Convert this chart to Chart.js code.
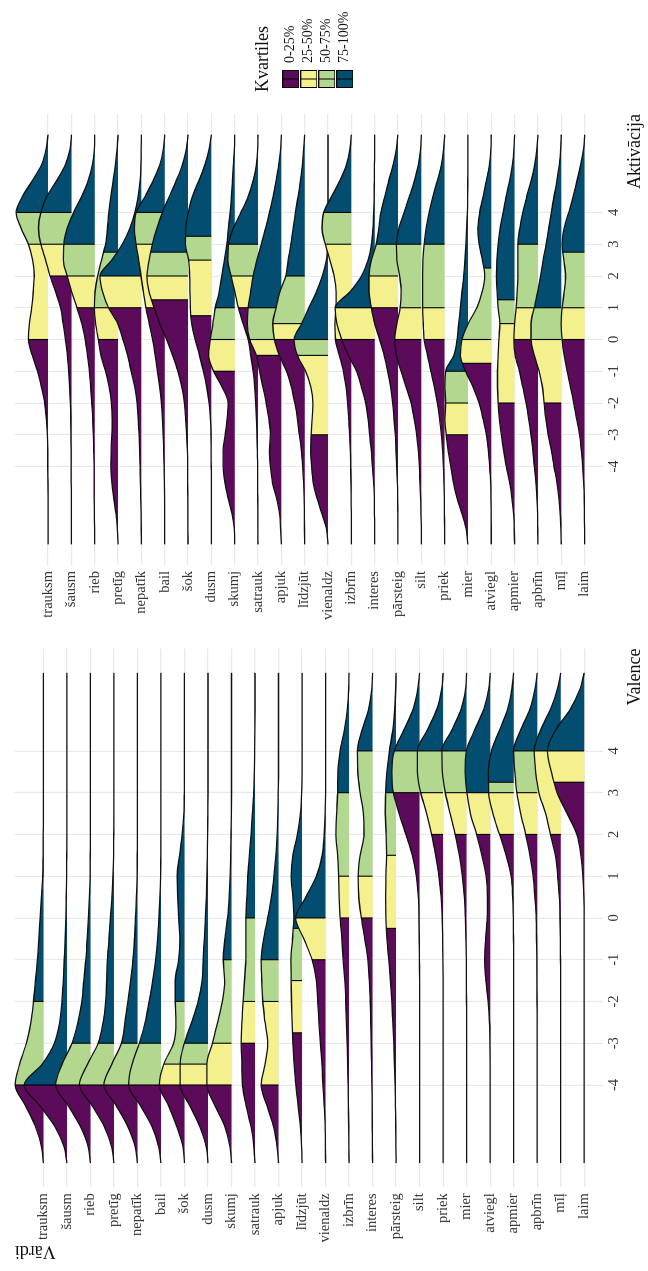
<!DOCTYPE html>
<html><head><meta charset="utf-8">
<script src="https://cdn.jsdelivr.net/npm/chart.js@4.4.1/dist/chart.umd.min.js"></script>
<style>
html,body{margin:0;padding:0;background:#fff;overflow:hidden;width:648px;height:1271px;}
#stage{position:absolute;left:0;top:0;width:1271px;height:648px;transform-origin:0 0;transform:translate(0px,1271px) rotate(-90deg);background:#fff;}
#stage canvas{position:absolute;top:0;}
</style></head><body>
<div id="stage">
<canvas id="valence" width="640" height="648" style="left:0px"></canvas>
<canvas id="aktivacija" width="530" height="648" style="left:640px"></canvas>
<canvas id="legend" width="92" height="610" style="left:1179px"></canvas>
</div>
<script>
// ---------- data ----------
const WORDS = ['trauksm','šausm','rieb','pretīg','nepatīk','bail','šok','dusm','skumj','satrauk','apjuk','līdzjūt','vienaldz','izbrīn','interes','pārsteig','silt','priek','mier','atviegl','apmier','apbrīn','mīļ','laim'];
const QUARTILE_LABELS = ['0-25%','25-50%','50-75%','75-100%'];
const QUARTILE_COLORS = ['#5C0B5B','#F3F08D','#B2D78E','#034D71'];
const VALENCE_TICKS = [-4,-3,-2,-1,0,1,2,3,4];
const AKTIVACIJA_TICKS = [-4,-3,-2,-1,0,1,2,3,4];

// evaluation points of the ridge curves
const VALENCE_GRID = [-5.87,-5.5,-5,-4.5,-4,-3.5,-3,-2.5,-2,-1.5,-1,-0.5,0,0.5,1,1.5,2,2.5,3,3.5,4,4.5,5,5.5,5.87];
const AKTIVACIJA_GRID = [-6.45,-6,-5.5,-5,-4.5,-4,-3.5,-3,-2.5,-2,-1.5,-1,-0.5,0,0.5,1,1.5,2,2.5,3,3.5,4,4.5,5,5.5,6,6.45];

// ridge heights (relative units) per word, at VALENCE_GRID
const VALENCE_DENSITY = [
 [0,5,24,54,86,72,52,38,30,24,18,14,10,6,2,1,0.5,0,0,0,0,0,0,0,0],
 [0,8,36,82,130,75,38,22,15,11,8,5,3,2,1,0.5,0,0,0,0,0,0,0,0,0],
 [0,6,30,67,106,86,56,38,26,20,14,10,6,3,1,0.5,0,0,0,0,0,0,0,0,0],
 [0,6,29,66,105,80,48,33,25,22,20,15,11,6,3,1,0.5,0,0,0,0,0,0,0,0],
 [0,6,29,64,102,78,49,38,29,21,14,9,6,3,1,0.5,0,0,0,0,0,0,0,0,0],
 [0,6,27,62,98,88,66,48,36,25,16,10,6,3,1,0.5,0,0,0,0,0,0,0,0,0],
 [0,4,23,48,76,63,33,26,28,28,18,14,18,21,22,15,7,2,0.5,0,0,0,0,0,0],
 [0,5,25,55,85,85,72,50,30,18,15,11,8,5,3,2,1,0.5,0,0,0,0,0,0,0],
 [0,4,20,50,75,75,58,42,28,21,25,20,12,7,4,2.5,1.5,0.5,0,0,0,0,0,0,0],
 [0,3,12,27,38,40,42,40,36,32,28,28,28,25,22,17,12,8,4,2,1,0.3,0,0,0],
 [0,4,15,35,53,41,33,41,48,51,53,45,33,22,14,8,4,2,1,0,0,0,0,0,0],
 [0,1,5,12,19,24,28,30,32,33,34,29,25,28,33,28,14,5,1,0,0,0,0,0,0],
 [0,0.3,1,4,8,11,16,20,24,28,41,66,91,60,28,10,4,1,0,0,0,0,0,0,0],
 [0,0.5,1,2,3,4,6,8,10,13,18,22,27,30,32,35,40,38,35,34,27,14,5,1,0],
 [0,0.5,1,1.5,2,3,4,5.5,7,10,14,24,34,42,44,38,26,28,38,45,46,32,12,2,0],
 [0,0.5,1,2,3,5,7,10,13,17,22,28,31,32,31,29,30,33,32,28,20,10,4,1,0],
 [0,0,0,0,0,0,0,0,0,0,0.5,1,2,4,10,22,42,62,80,84,77,48,20,5,0],
 [0,0,0,0,0,0,0,0,0,0,0.5,1.5,3,6,13,23,35,50,68,78,78,48,19,4,0],
 [0,0,0,0,0,0,0,0,0.3,0.6,1,2,4,7,13,22,35,50,65,74,75,45,17,3,0],
 [0,0,0,0,0,0,0.5,2,6,13,17,14,9,8,12,25,41,60,71,76,72,47,19,4,0],
 [0,0,0,0,0,0,0,0,0,0,0,0.5,1,3,8,23,43,63,76,77,68,43,18,5,0],
 [0,0,0,0,0,0,0,0,0.5,0.7,1,2,3,7,12,22,35,50,62,68,72,50,22,6,0],
 [0,0,0,0,0,0,0,0,0,0,0.5,1,2,4,9,16,31,46,66,76,81,61,31,9,0],
 [0,0,0,0,0,0,0,0,0,0,0,0,0,1,4,10,22,52,82,100,112,87,42,12,0]
];
const VALENCE_QUARTILES = [
 [-4,-4,-2],[-4,-4,-4],[-4,-4,-3],[-4,-4,-3],[-4,-4,-3],[-4,-4,-3],[-4,-3.5,-2],[-4,-3.5,-3],
 [-4,-3,-1],[-3,-2,0],[-4,-2,-1],[-2.75,-1.5,-0.25],[-1,0,0],[0,1,3],[0,1,4],[-0.25,1.5,3],
 [3,3,4],[2,3,4],[2,3,4],[2,3,3],[2,3,3.25],[2,3,4],[2,4,4],[3.25,4,4]
];

// ridge heights (relative units) per word, at AKTIVACIJA_GRID
const AKTIVACIJA_DENSITY = [
 [0,0,0,0,0.2,1,1,2,5,10,20,32,48,60,57,50,45,42,47,60,82,97,78,48,20,6,0],
 [0,0,0,0,0.5,0.7,1,1.5,2,3,5,8,12,18,25,33,48,65,78,93,100,93,75,45,18,4,0],
 [0,0.5,1,1.5,1.8,2,3,4,6,9,12,16,22,29,39,54,70,84,95,94,84,64,40,20,7,1,0],
 [0,2,6,13,19,22,21,19,18,20,27,38,52,60,68,72,70,62,50,38,32,28,22,15,8,3,0],
 [0,0.3,1,2,3,4,5,7,10,13,20,31,42,56,72,100,118,126,90,58,35,20,10,4,1.5,0.5,0],
 [0,0.2,0.3,0.5,1,2,3,5,7,10,15,22,29,37,47,57,65,72,79,87,92,87,60,35,15,4,0],
 [0,0.3,0.5,0.7,1,1,2,4,7,11,19,31,47,65,86,103,118,125,118,108,95,78,57,36,17,5,0],
 [0,0,0,0,0,0.3,0.6,1,3,7,14,24,36,49,60,64,65,66,69,79,78,70,58,38,20,7,0],
 [0,1,8,20,30,35,35,29,23,20,38,64,79,74,66,59,47,39,31,24,19,14,10,7,4,1,0],
 [0,0.3,0.5,0.7,1,1,2,3,5,7,10,15,22,30,45,60,70,82,92,90,75,52,30,15,5,1,0],
 [0,2,5,14,27,33,36,33,38,46,56,66,76,96,103,101,93,86,74,61,48,36,25,16,8,2,0],
 [0,0.5,1,1.5,3,6,10,16,22,30,40,55,77,92,97,87,75,57,50,42,35,28,20,13,7,3,0],
 [0,4,18,33,45,50,53,51,48,46,52,68,93,103,80,58,35,17,5,1,0.3,0,0,0,0,0,0],
 [0,0,0,0.5,1,2,3,5,8,11,16,24,36,48,50,46,46,52,65,79,89,84,60,35,15,4,0],
 [0,0,0.5,1,3,7,10,15,20,27,40,55,80,100,115,120,75,40,20,10,5,3,1.5,1,0.5,0,0],
 [0,0,0.5,1,2,4,6,8,12,16,22,31,42,56,71,81,88,88,81,66,58,52,40,28,15,5,0],
 [0,0,1,2,4,6,9,14,22,31,46,61,76,81,74,64,61,66,74,76,68,52,36,21,9,2,0],
 [0,0,0.5,1,2,4,6,10,15,22,31,42,52,62,65,67,67,67,66,62,56,47,36,22,10,3,0],
 [0,5,18,33,44,52,60,66,70,68,70,68,43,33,28,23,18,13,9,6,4,2,1,0.5,0,0,0],
 [0,0,0.5,1,2,5,9,15,25,37,55,78,94,89,70,44,28,20,27,37,41,35,25,15,6,1,0],
 [0,1,3,8,15,25,33,40,46,50,52,52,50,48,45,50,53,55,54,50,44,35,26,15,7,2,0],
 [0,0.5,1,3,6,11,15,21,28,36,46,56,69,73,71,66,63,61,61,61,55,46,34,21,10,3,0],
 [0,1,3,7,13,22,30,40,47,52,57,67,82,92,92,82,72,63,55,46,38,30,22,13,6,2,0],
 [0,0,0.5,1,3,6,10,15,24,33,43,53,62,68,71,68,62,58,63,68,62,48,35,23,12,3,0]
];
const AKTIVACIJA_QUARTILES = [
 [0,3,4],[2,3,4],[1,2,3],[0,1,2.75],[1,2,2],[1,3,4],[1.25,2,2.75],[0.75,2.5,3.25],
 [-1,0,1],[1,2,3],[-0.5,0,1],[0,0.5,2],[-3,-0.5,0],[0,3,4],[0,1,1],[1,2,3],
 [0,1,3],[0,1,3],[-3,-2,-1],[-0.75,0,2.25],[-2,0.5,1.25],[0,1,3],[-2,0,1],[0,1,2.75]
];

// ---------- rendering ----------
const FONT = "'Liberation Serif', 'Times New Roman', Times, serif";
Chart.defaults.font.family = FONT;
Chart.defaults.color = '#333';
const GRID_COLOR = '#E9E9E9';

function quartileGradient(chart, q) {
  const area = chart.chartArea;
  if (!area) return QUARTILE_COLORS[0];
  const xs = chart.scales.x;
  const w = area.right - area.left;
  const g = chart.ctx.createLinearGradient(area.left, 0, area.right, 0);
  const off = v => Math.min(1, Math.max(0, (xs.getPixelForValue(v) - area.left) / w));
  g.addColorStop(0, QUARTILE_COLORS[0]);
  q.forEach((v, k) => {
    const o = off(v);
    g.addColorStop(o, QUARTILE_COLORS[k]);
    g.addColorStop(o, QUARTILE_COLORS[k + 1]);
  });
  g.addColorStop(1, QUARTILE_COLORS[3]);
  return g;
}

// clips each quartile-line dataset to the area under its own ridge curve
const ridgeClip = {
  id: 'ridgeClip',
  beforeDatasetDraw(chart, args) {
    const ds = chart.data.datasets[args.index];
    if (ds.clipToRidge === undefined) return;
    const meta = chart.getDatasetMeta(ds.clipToRidge);
    const line = meta.dataset, pts = meta.data;
    const ctx = chart.ctx;
    const yb = chart.scales.y.getPixelForValue(ds.ridgeBase) + 0.6;
    ctx.save();
    ctx.beginPath();
    if (line && typeof line.path === 'function') {
      if (line.updateControlPoints) line.updateControlPoints(chart.chartArea, 'x');
      line.path(ctx);
    } else {
      pts.forEach((p, k) => k ? ctx.lineTo(p.x, p.y) : ctx.moveTo(p.x, p.y));
    }
    ctx.lineTo(pts[pts.length - 1].x, yb);
    ctx.lineTo(pts[0].x, yb);
    ctx.closePath();
    ctx.clip();
  },
  afterDatasetDraw(chart, args) {
    const ds = chart.data.datasets[args.index];
    if (ds.clipToRidge === undefined) return;
    chart.ctx.restore();
  }
};

function buildRidgeChart(canvasId, o) {
  const n = WORDS.length;
  const datasets = [];
  WORDS.forEach((word, i) => {
    const base = n - 1 - i;
    const dens = o.density[i];
    const q = o.quartiles[i];
    const ridgeIndex = datasets.length;
    datasets.push({
      label: word,
      data: o.grid.map((v, j) => ({x: v, y: base + dens[j] * o.heightScale})),
      fill: {value: base},
      backgroundColor: ctx => quartileGradient(ctx.chart, q),
      borderColor: '#111',
      borderWidth: 1.3,
      pointRadius: 0, pointHoverRadius: 0,
      pointBackgroundColor: 'rgba(0,0,0,0)', pointBorderColor: 'rgba(0,0,0,0)',
      cubicInterpolationMode: 'monotone',
      clip: 12,
      order: 2 * base + 1
    });
    const top = base + Math.max(...dens) * o.heightScale + 0.2;
    const qLines = [];
    q.forEach(v => qLines.push({x: v, y: base}, {x: v, y: top}, {x: v, y: null}));
    datasets.push({
      label: word + ' kvartiles',
      data: qLines,
      fill: false,
      borderColor: '#000',
      borderWidth: 1.1,
      pointRadius: 0, pointHoverRadius: 0,
      spanGaps: false, tension: 0,
      clipToRidge: ridgeIndex, ridgeBase: base,
      order: 2 * base
    });
  });

  return new Chart(document.getElementById(canvasId), {
    type: 'line',
    data: {datasets},
    options: {
      responsive: false, animation: false, events: [], devicePixelRatio: 1,
      layout: {padding: o.padding},
      plugins: {legend: {display: false}, tooltip: {enabled: false}},
      scales: {
        x: {
          type: 'linear', min: o.xMin, max: o.xMax,
          afterBuildTicks: s => { s.ticks = o.ticks.map(v => ({value: v})); },
          ticks: {autoSkip: false, maxRotation: 0, padding: 2, font: {size: 14.5}, color: '#333', callback: v => String(v)},
          grid: {color: GRID_COLOR, lineWidth: 1.2, drawTicks: false},
          border: {display: false},
          title: {display: true, text: o.axisTitle, align: 'end', font: {size: 18}, color: '#111', padding: {top: 0, bottom: 2}},
          afterFit: s => { s.height = 45; }
        },
        y: {
          type: 'linear', min: o.yMin, max: o.yMax,
          afterBuildTicks: s => { s.ticks = WORDS.map((w, k) => ({value: k})); },
          ticks: {autoSkip: false, padding: 6, font: {size: 14.5}, color: '#333', callback: v => WORDS[n - 1 - Math.round(v)]},
          grid: {color: GRID_COLOR, lineWidth: 1.2, drawTicks: false},
          border: {display: false},
          title: {display: o.showWordsTitle, text: 'Vārdi', align: 'end', font: {size: 18}, color: '#111', padding: {top: 9, bottom: 0}},
          afterFit: s => { s.width = o.axisWidth; }
        }
      }
    },
    plugins: [ridgeClip]
  });
}

buildRidgeChart('valence', {
  grid: VALENCE_GRID, density: VALENCE_DENSITY, quartiles: VALENCE_QUARTILES, ticks: VALENCE_TICKS,
  heightScale: 1 / 71.5, xMin: -6.45, xMax: 6.45, yMin: -0.8, yMax: 24.22,
  axisTitle: 'Valence', showWordsTitle: true, axisWidth: 83.7,
  padding: {top: 7, right: 17.6, left: 0, bottom: 0}
});

buildRidgeChart('aktivacija', {
  grid: AKTIVACIJA_GRID, density: AKTIVACIJA_DENSITY, quartiles: AKTIVACIJA_QUARTILES, ticks: AKTIVACIJA_TICKS,
  heightScale: 1 / 70.9, xMin: -7.1, xMax: 7.1, yMin: -0.79, yMax: 24.43,
  axisTitle: 'Aktivācija', showWordsTitle: false, axisWidth: 66,
  padding: {top: 7, right: 13, left: 0, bottom: 0}
});

// legend keys: filled box with outline and the quantile-line glyph
const KEY_IMAGES = QUARTILE_COLORS.map(c => {
  const cv = document.createElement('canvas');
  cv.width = 18; cv.height = 17;
  const g = cv.getContext('2d');
  g.fillStyle = c; g.fillRect(0, 0, 18, 17);
  g.strokeStyle = '#000'; g.lineWidth = 1; g.strokeRect(0.5, 0.5, 17, 16);
  g.beginPath(); g.moveTo(9, 0); g.lineTo(9, 17); g.stroke();
  return cv;
});

new Chart(document.getElementById('legend'), {
  type: 'bar',
  data: {labels: [], datasets: QUARTILE_LABELS.map((l, k) => ({label: l, data: [], backgroundColor: QUARTILE_COLORS[k]}))},
  options: {
    responsive: false, animation: false, events: [], devicePixelRatio: 1,
    layout: {padding: 0},
    scales: {x: {display: false}, y: {display: false}},
    plugins: {
      tooltip: {enabled: false},
      legend: {
        position: 'left', align: 'center', maxWidth: 92,
        title: {display: true, text: 'Kvartiles', position: 'start', font: {size: 18}, color: '#111', padding: {top: 0, bottom: 4}},
        labels: {
          usePointStyle: true, pointStyleWidth: 18, padding: 4,
          font: {size: 14}, color: '#222',
          generateLabels: chart => chart.data.datasets.map((ds, k) => ({
            text: ds.label, fillStyle: QUARTILE_COLORS[k], strokeStyle: '#000', lineWidth: 1,
            pointStyle: KEY_IMAGES[k], hidden: false, datasetIndex: k
          }))
        }
      }
    }
  }
});
</script>
</body></html>
